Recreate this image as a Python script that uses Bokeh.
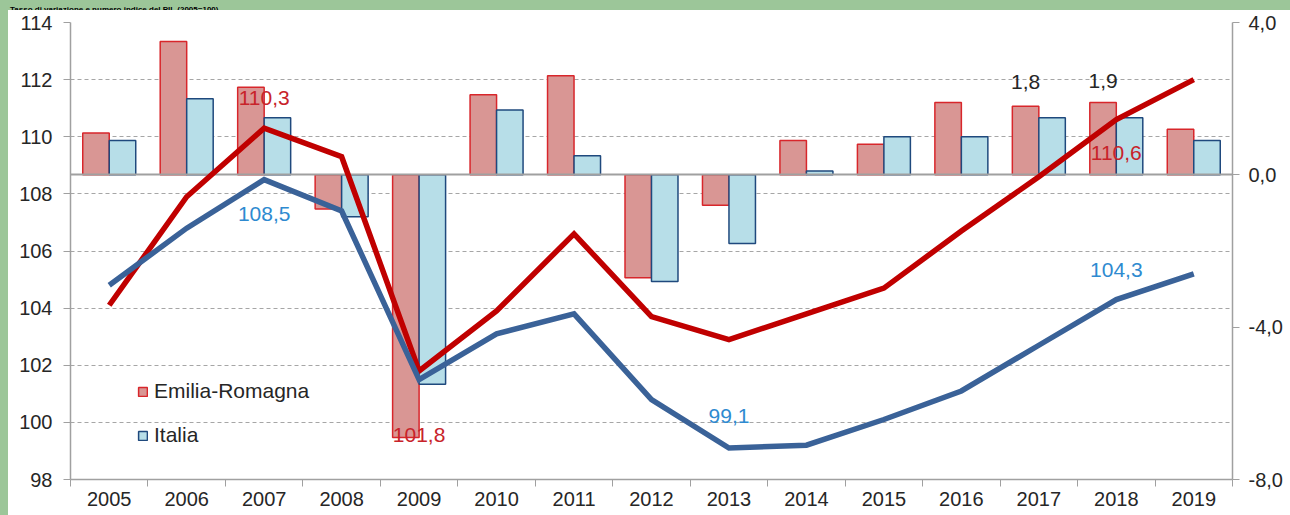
from bokeh.plotting import figure
from bokeh.models import (Range1d, LinearAxis, FixedTicker, Legend, LegendItem,
                          ColumnDataSource, Div)
from bokeh.layouts import column, row
from bokeh.core.properties import value
from bokeh.embed import file_html
from bokeh.resources import INLINE

# ---------------- data ----------------
title = "Tasso di variazione e numero indice del PIL (2005=100)"
years = [2005, 2006, 2007, 2008, 2009, 2010, 2011, 2012, 2013, 2014, 2015, 2016, 2017, 2018, 2019]
er_growth = [1.1, 3.5, 2.3, -0.9, -6.9, 2.1, 2.6, -2.7, -0.8, 0.9, 0.8, 1.9, 1.8, 1.9, 1.2]
it_growth = [0.9, 2.0, 1.5, -1.1, -5.5, 1.7, 0.5, -2.8, -1.8, 0.1, 1.0, 1.0, 1.5, 1.5, 0.9]
er_index = [104.1, 107.9, 110.3, 109.3, 101.8, 103.9, 106.6, 103.7, 102.9, 103.8, 104.7, 106.7, 108.6, 110.6, 112.0]
it_index = [104.8, 106.8, 108.5, 107.4, 101.5, 103.1, 103.8, 100.8, 99.1, 99.2, 100.1, 101.1, 102.7, 104.3, 105.2]
left_ticks = [98, 100, 102, 104, 106, 108, 110, 112, 114]
right_ticks = [-8.0, -4.0, 0.0, 4.0]
series_names = ["Emilia-Romagna", "Italia"]

# labelled points: (series, year, pixel offset)
index_labels = [("er", 2007, -30), ("it", 2007, 34), ("er", 2009, 64),
                ("it", 2013, -32), ("er", 2018, 33), ("it", 2018, -30)]
growth_labels = [("er", 2017, -24), ("er", 2018, -21)]

# ---------------- style ----------------
FONT = "Liberation Sans"
ER_FILL, ER_LINE, ER_CURVE, ER_TEXT = "#d99694", "#d8262b", "#c00000", "#c8232a"
IT_FILL, IT_LINE, IT_CURVE, IT_TEXT = "#b7dee8", "#1f497d", "#3a6298", "#2e8ad0"
AXIS = "#a0a0a0"
GRID = "#a6a6a6"
TXT = "#262626"
GREEN = "#9cc699"
TICK_FS = "20px"
LAB_FS = "21px"

def fmt(v):
    return f"{v:.1f}".replace(".", ",")

n = len(years)
xc = [i + 0.5 for i in range(n)]
bw = 0.342
off = bw / 2

p = figure(frame_width=1162, frame_height=457,
           x_range=Range1d(0, n), y_range=Range1d(left_ticks[0], left_ticks[-1]),
           output_backend="svg", toolbar_location=None,
           min_border_left=62, min_border_top=12, min_border_right=20, min_border_bottom=20,
           margin=0)
p.outline_line_color = None
p.background_fill_color = "white"
p.border_fill_color = "white"
p.extra_y_ranges = {"right": Range1d(right_ticks[0], right_ticks[-1])}

# axes
xa = p.xaxis[0]
xa.ticker = FixedTicker(ticks=xc, minor_ticks=list(range(n + 1)))
xa.major_label_overrides = {x: str(y) for x, y in zip(xc, years)}
xa.major_tick_out = 0
xa.major_tick_in = 0
xa.minor_tick_out = 7
xa.minor_tick_in = 0
xa.minor_tick_line_color = AXIS
xa.axis_line_color = AXIS
xa.axis_line_width = 1.5
xa.major_label_standoff = 5
xa.major_label_text_font = FONT
xa.major_label_text_font_size = TICK_FS
xa.major_label_text_color = TXT

ya = p.yaxis[0]
ya.ticker = FixedTicker(ticks=left_ticks)
ya.major_tick_out = 7
ya.major_tick_in = 0
ya.minor_tick_line_color = None
ya.major_tick_line_color = AXIS
ya.axis_line_color = AXIS
ya.axis_line_width = 1.5
ya.major_label_standoff = 11
ya.major_label_text_font = FONT
ya.major_label_text_font_size = TICK_FS
ya.major_label_text_color = TXT

ra = LinearAxis(y_range_name="right", ticker=FixedTicker(ticks=right_ticks))
ra.major_label_overrides = {t: fmt(t) for t in right_ticks}
ra.major_tick_out = 7
ra.major_tick_in = 0
ra.minor_tick_line_color = None
ra.major_tick_line_color = AXIS
ra.axis_line_color = AXIS
ra.axis_line_width = 1.5
ra.major_label_standoff = 9
ra.major_label_text_font = FONT
ra.major_label_text_font_size = TICK_FS
ra.major_label_text_color = TXT
p.add_layout(ra, "right")

p.xgrid.grid_line_color = None
p.ygrid.ticker = FixedTicker(ticks=left_ticks[1:])
p.ygrid.grid_line_color = GRID
p.ygrid.grid_line_dash = "4 3"
p.ygrid.grid_line_width = 1

# bars
src = ColumnDataSource(dict(
    x_er=[x - off for x in xc], x_it=[x + off for x in xc],
    er=er_growth, it=it_growth))
r_er = p.vbar(x="x_er", top="er", bottom=0, width=bw, source=src, y_range_name="right",
              fill_color=ER_FILL, line_color=ER_LINE, line_width=1.5)
r_it = p.vbar(x="x_it", top="it", bottom=0, width=bw, source=src, y_range_name="right",
              fill_color=IT_FILL, line_color=IT_LINE, line_width=1.5)

# zero line of the growth axis
p.hspan(y=[0], y_range_name="right", line_color=AXIS, line_width=2)

# index lines
p.line(xc, er_index, line_color=ER_CURVE, line_width=5.5, line_join="miter")
p.line(xc, it_index, line_color=IT_CURVE, line_width=5.5, line_join="miter")

# index labels
series_idx = {"er": er_index, "it": it_index}
series_col = {"er": ER_TEXT, "it": IT_TEXT}
lab = dict(x=[], y=[], t=[], c=[], dy=[])
for s, yr, dy in index_labels:
    i = years.index(yr)
    lab["x"].append(xc[i]); lab["y"].append(series_idx[s][i])
    lab["t"].append(fmt(series_idx[s][i])); lab["c"].append(series_col[s]); lab["dy"].append(dy)
p.text(x="x", y="y", text="t", text_color="c", y_offset="dy", source=ColumnDataSource(lab),
       text_align="center", text_baseline="middle",
       text_font=value(FONT), text_font_size=LAB_FS)

# growth labels
series_gr = {"er": er_growth, "it": it_growth}
series_x = {"er": -off, "it": off}
gl = dict(x=[], y=[], t=[], dy=[])
for s, yr, dy in growth_labels:
    i = years.index(yr)
    gl["x"].append(xc[i] + series_x[s]); gl["y"].append(series_gr[s][i])
    gl["t"].append(fmt(series_gr[s][i])); gl["dy"].append(dy)
p.text(x="x", y="y", text="t", y_offset="dy", source=ColumnDataSource(gl),
       y_range_name="right", text_color=TXT, text_align="center", text_baseline="middle",
       text_font=value(FONT), text_font_size=LAB_FS)

# legend
legend = Legend(items=[LegendItem(label=series_names[0], renderers=[r_er]),
                       LegendItem(label=series_names[1], renderers=[r_it])],
                location=(67, 32), orientation="vertical",
                glyph_width=11, glyph_height=11, label_height=23, spacing=20,
                label_standoff=6, padding=0, margin=0,
                label_text_font=FONT, label_text_font_size=LAB_FS, label_text_color=TXT,
                background_fill_alpha=0, border_line_color=None)
p.add_layout(legend)

# green frame: top band with the title (shrunk to fit) and a strip on the left
top_band = Div(
    text=('<div style="font-family:\'Liberation Sans\',sans-serif; font-weight:bold; '
          'font-size:8px; line-height:10px; padding-left:10px; white-space:nowrap; '
          'color:#000; margin:0;">' + title + '</div>'),
    width=1290, height=10, margin=0,
    styles={"background-color": GREEN, "overflow": "hidden", "padding": "0"})
left_strip = Div(text="", width=8, height=505, margin=0,
                 styles={"background-color": GREEN, "padding": "0"})

layout = column(top_band, row(left_strip, p, spacing=0, margin=0), spacing=0, margin=0)

open("out.html", "w").write(file_html(layout, INLINE))
